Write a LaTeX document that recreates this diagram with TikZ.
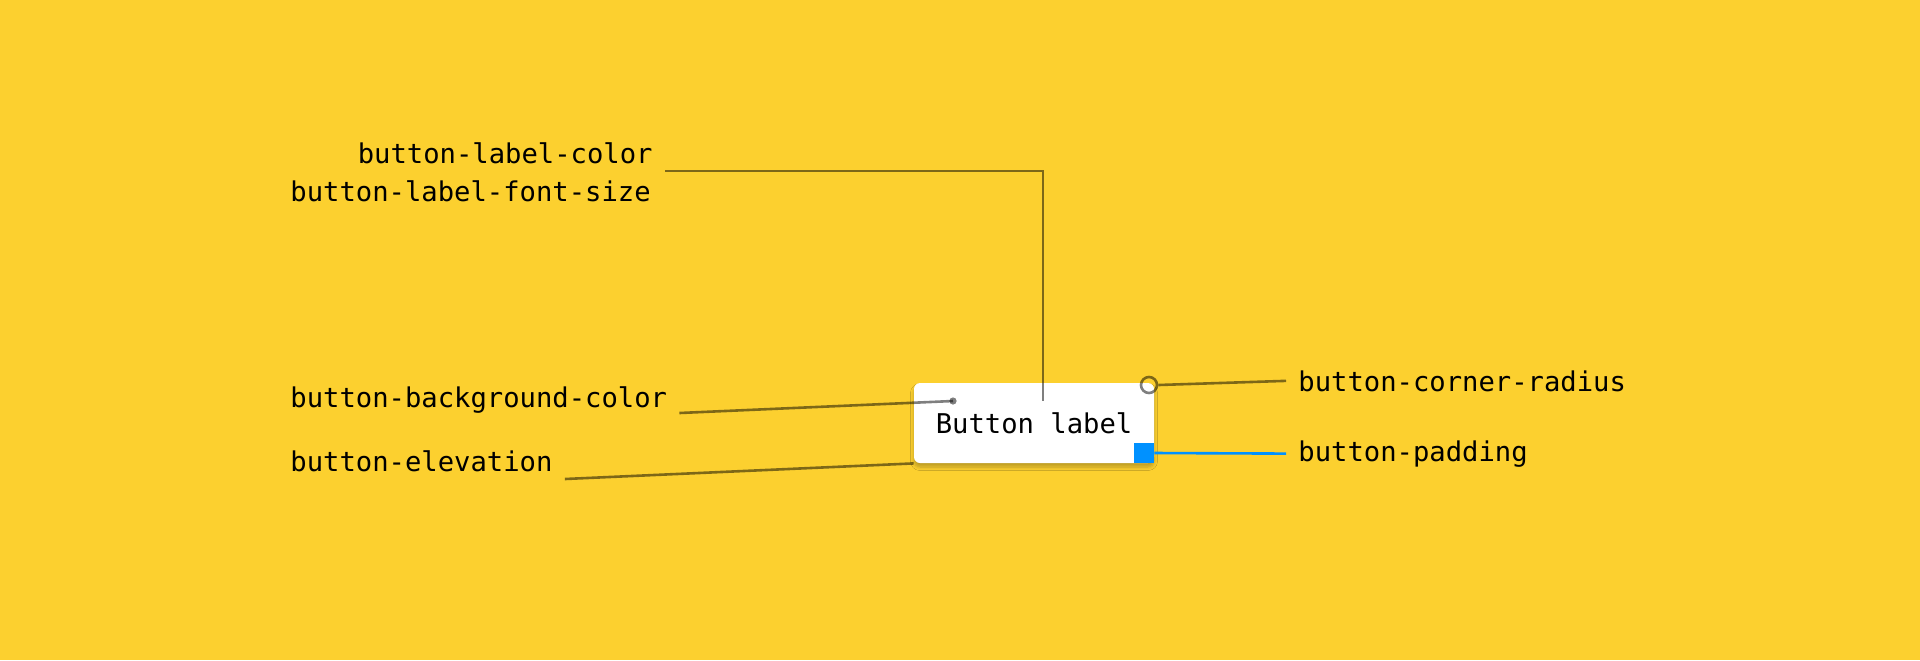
\documentclass[tikz,border=0pt]{standalone}
\usepackage{fontspec}
\setmonofont{DejaVu Sans Mono}
\usetikzlibrary{shadows.blur}
\definecolor{bgyellow}{HTML}{FCD02F}
\definecolor{padblue}{HTML}{0091FF}
\tikzset{
	tokenlabel/.style={font=\ttfamily\fontsize{13.6}{17}\selectfont,inner sep=0pt},
	leader/.style={draw=black,draw opacity=0.5,line width=1.3pt},
}
\begin{document}
\begin{tikzpicture}[x=0.5pt,y=-0.5pt]
		\fill[bgyellow] (0,0) rectangle (1920,660);
		\useasboundingbox (0,0) rectangle (1920,660);

		% the button itself
		\node[fill=white,rounded corners=3pt,minimum width=120pt,minimum height=40pt,
			inner sep=0pt,blur shadow={shadow blur steps=6,shadow xshift=0pt,shadow yshift=-2pt,shadow opacity=25},
			font=\ttfamily\fontsize{13.6}{17}\selectfont] (btn) at (1034,423) {Button label};

		% token names
		\node[tokenlabel,anchor=base east] (lc) at (653,163) {button-label-color};
		\node[tokenlabel,anchor=base west] (lf) at (290,201) {button-label-font-size};
		\node[tokenlabel,anchor=base west] (bg) at (290,407) {button-background-color};
		\node[tokenlabel,anchor=base west] (el) at (290,471) {button-elevation};
		\node[tokenlabel,anchor=base west] (cr) at (1298,391) {button-corner-radius};
		\node[tokenlabel,anchor=base west] (pd) at (1298,461) {button-padding};

		% markers on the button
		\coordinate (lcend) at (1043,401);
		\coordinate (bgdot) at (953,401);
		\node[circle,draw=black,draw opacity=0.5,line width=1.3pt,minimum size=8pt,inner sep=0pt] (corner) at (1149,385) {};
		\node[fill=padblue,minimum size=10pt,inner sep=0pt,anchor=south east] (pad) at (btn.south east) {};

		% leaders
		\draw[leader] ([xshift=6pt,yshift=-4pt]lc.base east) -| (lcend);
		\draw[leader] ([xshift=6pt,yshift=-3pt]bg.base east) -- (bgdot);
		\fill[black,opacity=0.5] (bgdot) circle (1.8pt);
		\draw[leader] ([xshift=6pt,yshift=-4pt]el.base east) -- (btn.south west);
		\draw[leader] (corner.east) -- ([xshift=-6pt]cr.west);
		\draw[padblue,line width=1.3pt] (pad.east) -- ([xshift=-6pt]pd.west);
\end{tikzpicture}
\end{document}
